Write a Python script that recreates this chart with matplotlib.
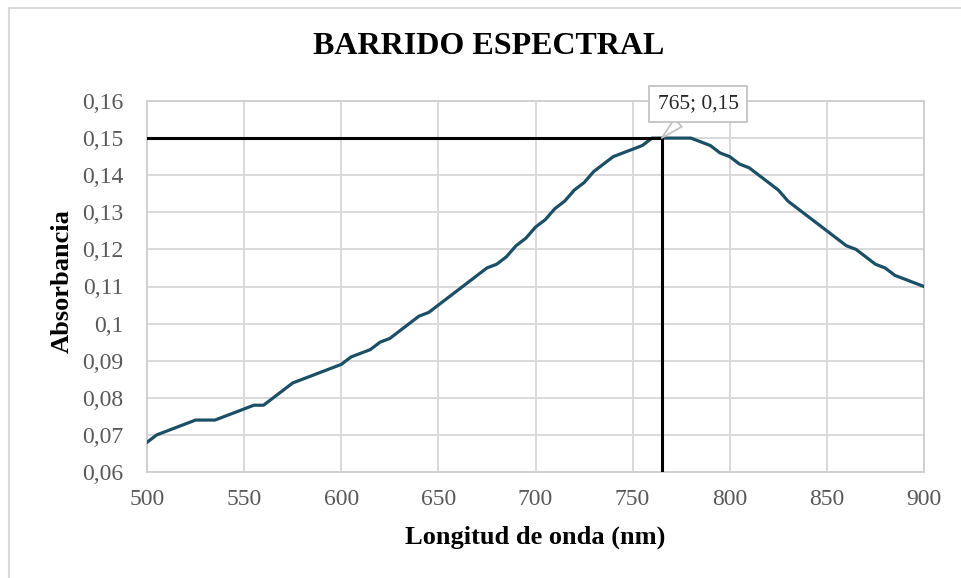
import matplotlib
matplotlib.use('Agg')
import matplotlib.pyplot as plt
from matplotlib.patches import Rectangle
from matplotlib.ticker import FuncFormatter, MultipleLocator

plt.rcParams['font.family'] = ['Liberation Serif', 'DejaVu Serif']

# datos (cada 5 nm)
longitud = [500, 505, 510, 515, 520, 525, 530, 535, 540, 545,
            550, 555, 560, 565, 570, 575, 580, 585, 590, 595,
            600, 605, 610, 615, 620, 625, 630, 635, 640, 645,
            650, 655, 660, 665, 670, 675, 680, 685, 690, 695,
            700, 705, 710, 715, 720, 725, 730, 735, 740, 745,
            750, 755, 760, 765, 770, 775, 780, 785, 790, 795,
            800, 805, 810, 815, 820, 825, 830, 835, 840, 845,
            850, 855, 860, 865, 870, 875, 880, 885, 890, 895,
            900]
absorbancia = [0.068, 0.070, 0.071, 0.072, 0.073, 0.074, 0.074, 0.074, 0.075, 0.076,
               0.077, 0.078, 0.078, 0.080, 0.082, 0.084, 0.085, 0.086, 0.087, 0.088,
               0.089, 0.091, 0.092, 0.093, 0.095, 0.096, 0.098, 0.100, 0.102, 0.103,
               0.105, 0.107, 0.109, 0.111, 0.113, 0.115, 0.116, 0.118, 0.121, 0.123,
               0.126, 0.128, 0.131, 0.133, 0.136, 0.138, 0.141, 0.143, 0.145, 0.146,
               0.147, 0.148, 0.150, 0.150, 0.150, 0.150, 0.150, 0.149, 0.148, 0.146,
               0.145, 0.143, 0.142, 0.140, 0.138, 0.136, 0.133, 0.131, 0.129, 0.127,
               0.125, 0.123, 0.121, 0.120, 0.118, 0.116, 0.115, 0.113, 0.112, 0.111,
               0.110]
pico_x = 765
pico_y = 0.15

fig = plt.figure(figsize=(9.61, 5.78), dpi=100)
ax = fig.add_axes([147/961, 106/578, 777/961, 371/578])

# marco exterior
fig.patches.append(Rectangle((9/961, -0.1), 2, (570/578) + 0.1, transform=fig.transFigure,
                             fill=False, edgecolor='#d9d9d9', linewidth=1.5))

ax.plot(longitud, absorbancia, color='#1b4f66', linewidth=2.3, zorder=3)

# líneas de referencia del máximo
ax.plot([500, pico_x], [pico_y, pico_y], color='black', linewidth=2.2, zorder=4)
ax.plot([pico_x, pico_x], [0.06, pico_y], color='black', linewidth=2.2, zorder=4)

ax.annotate('765; 0,15', xy=(pico_x, pico_y), xytext=(698, 578 - 104), textcoords='figure pixels',
            ha='center', va='center', fontsize=15.5, color='#262626',
            bbox=dict(boxstyle='square,pad=0.4', fc='white', ec='#bfbfbf', lw=1.2),
            arrowprops=dict(arrowstyle='wedge,tail_width=0.5', fc='white', ec='#bfbfbf', lw=1.2,
                            shrinkA=0, shrinkB=0),
            zorder=5)

ax.set_xlim(500, 900)
ax.set_ylim(0.06, 0.16)
ax.xaxis.set_major_locator(MultipleLocator(50))
ax.yaxis.set_major_locator(MultipleLocator(0.01))
ax.yaxis.set_major_formatter(FuncFormatter(lambda v, p: f'{round(v, 3):g}'.replace('.', ',')))
ax.grid(True, color='#d9d9d9', linewidth=1.4)
ax.set_axisbelow(True)
for s in ax.spines.values():
    s.set_color('#d0d0d0')
    s.set_linewidth(1.4)
ax.tick_params(length=0, labelsize=17, labelcolor='#595959')
ax.tick_params(axis='y', pad=17)
ax.tick_params(axis='x', pad=12)

fig.text(535/961, 1 - 537/578, 'Longitud de onda (nm)', ha='center', va='center',
         fontsize=19, fontweight='bold')
fig.text(62/961, 1 - 281/578, 'Absorbancia', ha='center', va='center', rotation=90,
         fontsize=19, fontweight='bold')
fig.text(489/961, 1 - 47/578, 'BARRIDO ESPECTRAL', ha='center', va='center',
         fontsize=23, fontweight='bold')

fig.savefig('out.png', dpi=100)
